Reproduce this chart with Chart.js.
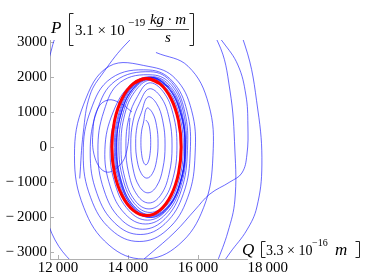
<!DOCTYPE html>
<html>
<head>
<meta charset="utf-8">
<script src="https://cdn.jsdelivr.net/npm/chart.js@4.4.0/dist/chart.umd.min.js"></script>
<style>
  html, body { margin: 0; padding: 0; background: #fff; }
</style>
</head>
<body>
<canvas id="phaseChart" width="374" height="280"></canvas>
<script>
// axis ticks
const qTicks = [12000, 14000, 16000, 18000];
const pTicks = [-3000, -2000, -1000, 0, 1000, 2000, 3000];

// red limit cycle [Q, P]
const limitCycle = [
  [14151, 1811], [14530, 1960], [14909, 1811], [15230, 1386], [15445, 750], [15520, 0], [15445, -750],
  [15230, -1386], [14909, -1811], [14530, -1960], [14151, -1811], [13830, -1386], [13615, -750],
  [13540, 0], [13615, 750], [13830, 1386], [14151, 1811], [14530, 1960], [14909, 1811]
];

// trajectory growing from the centre onto the cycle
const innerSpiral = [
  [14510, 770], [14580, 684], [14631, 450], [14650, 130], [14631, -190], [14580, -424],
  [14510, -510], [14440, -424], [14389, -190], [14370, 130], [14389, 450], [14440, 684],
  [14540, 1110], [14700, 976], [14817, 610], [14860, 110], [14817, -390], [14700, -756],
  [14540, -890], [14380, -756], [14263, -390], [14220, 110], [14263, 610], [14380, 976],
  [14570, 1430], [14815, 1246], [14994, 745], [15060, 60], [14994, -625], [14815, -1126],
  [14570, -1310], [14325, -1126], [14146, -625], [14080, 60], [14146, 745], [14325, 1246],
  [14600, 1660], [14930, 1442], [15172, 845], [15260, 30], [15172, -785], [14930, -1382],
  [14600, -1600], [14270, -1382], [14028, -785], [13940, 30], [14028, 845], [14270, 1442],
  [14600, 1830], [15000, 1589], [15293, 930], [15400, 30], [15293, -870], [15000, -1529],
  [14600, -1770], [14200, -1529], [13907, -870], [13800, 30], [13907, 930], [14200, 1589],
  [14630, 1910], [15075, 1657], [15401, 965], [15520, 20], [15401, -925], [15075, -1617],
  [14630, -1870], [14185, -1617], [13859, -925], [13740, 20], [13859, 965], [14185, 1657],
  [14630, 1930], [15105, 1671], [15453, 965], [15580, 0], [15453, -965], [15105, -1671],
  [14630, -1930], [14155, -1671], [13807, -965], [13680, 0], [13807, 965], [14155, 1671],
  [14650, 1955], [15138, 1693], [15494, 978], [15625, 0], [15494, -978], [15138, -1693],
  [14650, -1955], [14162, -1693], [13806, -978], [13675, 0], [13806, 978], [14162, 1693],
  [14640, 1980], [15140, 1715], [15506, 990], [15640, 0], [15506, -990], [15140, -1715],
  [14640, -1980], [14140, -1715], [13774, -990], [13640, 0], [13774, 990], [14140, 1715],
  [14620, 1990], [15125, 1722], [15495, 990], [15630, -10], [15495, -1010], [15125, -1742],
  [14620, -2010], [14115, -1742], [13745, -1010], [13610, -10], [13745, 990], [14115, 1722],
  [14620, 1990], [15125, 1722]
];

// trajectory shrinking from outside onto the cycle
const outerSpiral = [
  [14800, 2700], [15720, 2305], [16305, 1225], [16430, -250], [16165, -1725], [15440, -2805],
  [14450, -3200], [13460, -2805], [12735, -1725], [12470, -250], [12735, 1225], [13460, 2305],
  [14600, 2300], [15344, 1965], [15818, 1050], [15920, -200], [15706, -1450], [15120, -2365],
  [14320, -2700], [13520, -2365], [12934, -1450], [12720, -200], [12934, 1050], [13520, 1965],
  [14600, 2200], [15265, 1885], [15688, 1025], [15780, -150], [15588, -1325], [15065, -2185],
  [14350, -2500], [13635, -2185], [13112, -1325], [12920, -150], [13112, 1025], [13635, 1885],
  [14650, 2150], [15244, 1849], [15620, 1025], [15700, -100], [15528, -1225], [15060, -2049],
  [14420, -2350], [13780, -2049], [13312, -1225], [13140, -100], [13312, 1025], [13780, 1849],
  [14700, 2060], [15240, 1775], [15585, 995], [15660, -70], [15505, -1135], [15080, -1915],
  [14500, -2200], [13920, -1915], [13495, -1135], [13340, -70], [13575, 995], [14080, 1775],
  [14700, 2010], [15207, 1735], [15543, 985], [15630, -40], [15487, -1065], [15095, -1815],
  [14560, -2090], [14025, -1815], [13633, -1065], [13490, -40], [13689, 985], [14137, 1735],
  [14690, 1985], [15175, 1717], [15519, 985], [15635, -15], [15503, -1015], [15143, -1747],
  [14650, -2015], [14157, -1747], [13797, -1015], [13665, -15], [13813, 985], [14189, 1717],
  [14690, 1985], [15175, 1717]
];

// small hook left of the centre
const hookPath = [
  [14057, 829], [13971, -86], [13771, -514], [13371, -714], [13057, -314], [13000, 486],
  [13143, 1114], [13429, 1343], [13771, 1257], [14114, 1000]
];

// big excursions leaving the plot range
const topArc = [
  [12620, -900], [12720, 400], [12914, 1486], [13286, 2114], [14000, 3000], [14914, 3771], [15914, 3771],
  [16571, 3000], [16914, 1629], [17057, -86], [17057, -1514], [16857, -2429], [16543, -3314]
];
const riseArc = [
  [13914, -3657], [14629, -3057], [15343, -2429], [15914, -1800], [16343, -1343], [16914, -1000], [17257, -743],
  [17400, -229], [17429, 629], [17371, 1486], [17143, 2343], [16714, 3000], [16200, 3629]
];
const wideArc = [
  [12914, -3800], [11914, -2657], [11543, -1229], [11429, 200], [11543, 1629], [11771, 2629], [12057, 3343],
  [13200, 4343], [15200, 4771], [16771, 3914], [17343, 2914], [17714, 1057], [17829, -514], [17686, -1714],
  [17400, -2371], [16914, -3029], [16486, -3657]
];

const qAxisEnd = 17430;

const toXY = arr => arr.map(([q, p]) => ({ x: q, y: p }));

const blueLine = (data) => ({
  data: toXY(data),
  borderColor: 'rgba(20, 20, 255, 0.8)',
  borderWidth: 0.8,
  pointRadius: 0,
  tension: 0.4,
  fill: false,
  order: 1
});

const serif = '"Liberation Serif", "DejaVu Serif", serif';

function fmtQ(v) {
  const s = String(v);
  return s.slice(0, s.length - 3) + '\u2009' + s.slice(-3);
}
function fmtP(v) {
  return v < 0 ? '\u2212\u2009' + Math.abs(v) : String(v);
}

// thin square bracket, open to the right (dir 1) or left (dir -1)
function bracket(ctx, x, top, bottom, dir) {
  ctx.beginPath();
  ctx.moveTo(x + 4 * dir, top);
  ctx.lineTo(x, top);
  ctx.lineTo(x, bottom);
  ctx.lineTo(x + 4 * dir, bottom);
  ctx.stroke();
}

// axes lines, ticks and the two axis labels
const axesPlugin = {
  id: 'axesPlugin',
  beforeDatasetsDraw(chart) {
    const { ctx, chartArea: a, scales: { x, y } } = chart;
    ctx.save();
    ctx.strokeStyle = '#b0b0b0';
    ctx.lineWidth = 1;
    ctx.beginPath();
    ctx.moveTo(a.left + 0.5, a.top);
    ctx.lineTo(a.left + 0.5, a.bottom);
    ctx.moveTo(a.left, a.bottom + 0.5);
    ctx.lineTo(x.getPixelForValue(qAxisEnd), a.bottom + 0.5);
    pTicks.forEach(v => {
      const py = Math.round(y.getPixelForValue(v)) + 0.5;
      ctx.moveTo(a.left, py); ctx.lineTo(a.left + 4, py);
    });
    qTicks.forEach(v => {
      if (v > qAxisEnd) return;
      const px = Math.round(x.getPixelForValue(v)) + 0.5;
      ctx.moveTo(px, a.bottom); ctx.lineTo(px, a.bottom - 4);
    });
    ctx.stroke();
    ctx.restore();
  },
  afterDraw(chart) {
    const ctx = chart.ctx;
    ctx.save();
    ctx.fillStyle = '#000';
    ctx.strokeStyle = '#222';
    ctx.textBaseline = 'alphabetic';
    const t = (s, px, py, font, align) => {
      ctx.font = font;
      ctx.textAlign = align || 'left';
      ctx.fillText(s, px, py);
    };
    // P axis label
    t('P', 51, 33, 'italic 17px ' + serif);
    ctx.lineWidth = 1;
    bracket(ctx, 69.5, 13.5, 45.5, 1);
    t('3.1 \u00d7 10', 75, 35, '15px ' + serif);
    t('\u221219', 128, 26, '11px ' + serif);
    t('kg \u00b7 m', 168, 24, 'italic 15px ' + serif, 'center');
    t('s', 168, 42, 'italic 15px ' + serif, 'center');
    ctx.lineWidth = 0.8;
    ctx.beginPath();
    ctx.moveTo(148, 29.5);
    ctx.lineTo(189, 29.5);
    ctx.stroke();
    ctx.lineWidth = 1;
    bracket(ctx, 193.5, 13.5, 45.5, -1);
    // Q axis label
    t('Q', 242, 255, 'italic 17px ' + serif);
    bracket(ctx, 261.5, 241.5, 257.5, 1);
    t('3.3 \u00d7 10', 266, 255, '14px ' + serif);
    t('\u221216', 312, 246, '10px ' + serif);
    t('m', 335, 255, 'italic 17px ' + serif);
    bracket(ctx, 359.5, 241.5, 257.5, -1);
    ctx.restore();
  }
};

new Chart(document.getElementById('phaseChart').getContext('2d'), {
  type: 'line',
  data: {
    datasets: [
      {
        data: toXY(limitCycle),
        borderColor: '#ff0000',
        borderWidth: 3,
        pointRadius: 0,
        tension: 0.4,
        fill: false,
        order: 0
      },
      blueLine(innerSpiral),
      blueLine(outerSpiral),
      blueLine(hookPath),
      blueLine(topArc),
      blueLine(riseArc),
      blueLine(wideArc)
    ]
  },
  options: {
    responsive: false,
    animation: false,
    devicePixelRatio: 1,
    layout: { padding: { top: 40, right: 96, left: 0, bottom: 0 } },
    plugins: { legend: { display: false }, tooltip: { enabled: false } },
    scales: {
      x: {
        type: 'linear',
        min: 11770,
        max: 18290,
        grid: { display: false, drawTicks: false },
        border: { display: false },
        afterBuildTicks: s => { s.ticks = qTicks.map(v => ({ value: v })); },
        afterFit: s => { s.height = 21; s.paddingLeft = 0; s.paddingRight = 0; },
        ticks: {
          autoSkip: false,
          maxRotation: 0,
          padding: 0,
          color: '#000',
          font: { family: serif, size: 15 },
          callback: v => fmtQ(v)
        }
      },
      y: {
        type: 'linear',
        min: -3200,
        max: 3057,
        grid: { display: false, drawTicks: false },
        border: { display: false },
        afterBuildTicks: s => { s.ticks = pTicks.map(v => ({ value: v })); },
        afterFit: s => { s.width = 50; s.paddingTop = 0; s.paddingBottom = 0; },
        ticks: {
          autoSkip: false,
          padding: 3,
          color: '#000',
          font: { family: serif, size: 15 },
          callback: v => fmtP(v)
        }
      }
    }
  },
  plugins: [axesPlugin]
});
</script>
</body>
</html>
